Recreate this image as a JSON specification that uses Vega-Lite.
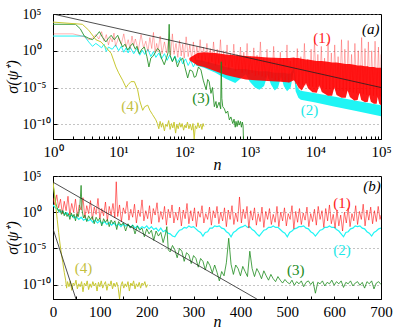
{
  "$schema": "https://vega.github.io/schema/vega-lite/v6.json",
  "background": "white",
  "padding": {"left": 3, "top": 6, "right": 5, "bottom": 2},
  "config": {
    "font": "Liberation Serif",
    "view": {"stroke": "black", "strokeWidth": 1},
    "axis": {"domainColor": "black", "tickColor": "black", "labelFont": "Liberation Serif", "labelFontSize": 15, "labelColor": "black", "titleFont": "Liberation Serif", "titleColor": "black", "titleFontWeight": "normal", "titleFontSize": 16, "titleFontStyle": "italic", "grid": false}
  },
  "datasets": {
    "aRedLine": [
      {"n":1,"v":200},{"n":2,"v":200},{"n":2.5,"v":126},{"n":3,"v":79},{"n":3.5,"v":32},{"n":4,"v":50},{"n":4.5,"v":158},{"n":5,"v":40},{"n":5.5,"v":398},{"n":6,"v":20},{"n":6.5,"v":158},{"n":7,"v":6.3},{"n":7.5,"v":63},{"n":8,"v":16},{"n":8.5,"v":251},{"n":9,"v":4},{"n":10,"v":63},{"n":11,"v":7.9},{"n":12,"v":200},{"n":13,"v":3.2},{"n":14,"v":32},{"n":15,"v":1.6},{"n":16,"v":100},{"n":17,"v":5},{"n":18,"v":40},{"n":20,"v":1.26},{"n":22,"v":158},{"n":24,"v":2.5},{"n":26,"v":20},{"n":28,"v":0.79},{"n":30,"v":63},{"n":32,"v":2},{"n":34,"v":316},{"n":36,"v":0.63},{"n":38,"v":10},{"n":40,"v":1},{"n":43,"v":100},{"n":46,"v":0.4},{"n":50,"v":16},{"n":54,"v":0.5},{"n":58,"v":40},{"n":62,"v":0.25},{"n":66,"v":200},{"n":70,"v":0.32},{"n":75,"v":10},{"n":80,"v":0.126},{"n":85,"v":25},{"n":90,"v":0.2},{"n":95,"v":7.9},{"n":100,"v":0.1},{"n":107,"v":79},{"n":115,"v":0.16},{"n":122,"v":6.3},{"n":130,"v":0.063},{"n":138,"v":16},{"n":147,"v":0.04},{"n":156,"v":4},{"n":165,"v":0.1},{"n":175,"v":32},{"n":186,"v":0.032},{"n":197,"v":3.2},{"n":210,"v":0.05},{"n":222,"v":10},{"n":236,"v":0.016},{"n":250,"v":2},{"n":265,"v":0.032},{"n":280,"v":16},{"n":300,"v":0.01},{"n":318,"v":1.6},{"n":337,"v":0.02},{"n":357,"v":32},{"n":380,"v":0.005},{"n":400,"v":1},{"n":425,"v":0.01},{"n":450,"v":6.3},{"n":478,"v":0.0032},{"n":507,"v":0.5},{"n":538,"v":0.0063},{"n":570,"v":7.9},{"n":605,"v":0.0016},{"n":640,"v":0.32},{"n":680,"v":0.0025},{"n":720,"v":3.2},{"n":765,"v":0.001},{"n":810,"v":0.63},{"n":860,"v":0.0016},{"n":910,"v":10},{"n":965,"v":0.00063},{"n":1020,"v":0.16},{"n":1085,"v":0.001},{"n":1150,"v":2.5},{"n":1220,"v":0.0004},{"n":1290,"v":0.25},{"n":1370,"v":0.0005},{"n":1450,"v":16},{"n":1540,"v":0.00032},{"n":1630,"v":0.1},{"n":1730,"v":0.00025},{"n":1830,"v":1.6},{"n":1940,"v":0.00016},{"n":2060,"v":0.063},{"n":2180,"v":0.0002},{"n":2310,"v":4},{"n":2450,"v":0.0001},{"n":2600,"v":0.032},{"n":2760,"v":0.0001},{"n":2920,"v":0.63},{"n":3100,"v":6.3e-5},{"n":3280,"v":0.1},{"n":3480,"v":7.9e-5},{"n":3690,"v":6.3},{"n":3910,"v":5e-5},{"n":4150,"v":0.04},{"n":4400,"v":0.000126},{"n":4700,"v":0.1},{"n":5000,"v":3.2e-5},{"n":5300,"v":2},{"n":5600,"v":3.2e-5},{"n":6000,"v":0.16},{"n":6400,"v":2.5e-5},{"n":6800,"v":10},{"n":7200,"v":2e-5},{"n":7600,"v":0.063},{"n":8100,"v":1.6e-5},{"n":8600,"v":1.6},{"n":9100,"v":1.26e-5},{"n":9700,"v":32},{"n":10300,"v":1e-5},{"n":10900,"v":0.32},{"n":11600,"v":1e-5},{"n":12300,"v":4},{"n":13000,"v":7.9e-6},{"n":13800,"v":0.1},{"n":14700,"v":6.3e-6},{"n":15600,"v":16},{"n":16500,"v":6.3e-6},{"n":17500,"v":0.5},{"n":18600,"v":5e-6},{"n":19700,"v":6.3},{"n":20900,"v":4e-6},{"n":22200,"v":0.16},{"n":23500,"v":4e-6},{"n":25000,"v":32},{"n":26500,"v":3.2e-6},{"n":28100,"v":1.6},{"n":29800,"v":2.5e-6},{"n":31600,"v":25},{"n":33500,"v":2.5e-6},{"n":35600,"v":0.32},{"n":37800,"v":2e-6},{"n":40000,"v":10},{"n":42500,"v":1.6e-6},{"n":45000,"v":1},{"n":47800,"v":1.6e-6},{"n":50700,"v":63},{"n":53800,"v":1.26e-6},{"n":57000,"v":2},{"n":60500,"v":1e-6},{"n":64200,"v":16},{"n":68000,"v":1e-6},{"n":72200,"v":1},{"n":76600,"v":7.9e-7},{"n":81200,"v":20},{"n":86100,"v":7.9e-7},{"n":91400,"v":3.2},{"n":97000,"v":6.3e-7},{"n":100000,"v":0.32}
    ],
    "aRedBand": [
      {"n":120,"lo":0.05,"hi":0.1},{"n":160,"lo":0.01,"hi":0.5},{"n":200,"lo":0.0063,"hi":0.63},{"n":300,"lo":0.0016,"hi":0.5},{"n":430,"lo":0.0005,"hi":0.32},{"n":600,"lo":0.00025,"hi":0.25},{"n":870,"lo":0.000126,"hi":0.2},{"n":1200,"lo":0.0001,"hi":0.16},{"n":1870,"lo":7.9e-5,"hi":0.126},{"n":3000,"lo":6.3e-5,"hi":0.1},{"n":4000,"lo":5e-5,"hi":0.1},{"n":4700,"lo":0.0001,"hi":0.126},{"n":5000,"lo":5e-5,"hi":0.1},{"n":5500,"lo":1e-5,"hi":0.1},{"n":6200,"lo":4e-6,"hi":0.079},{"n":7200,"lo":4e-5,"hi":0.063},{"n":7700,"lo":7.9e-6,"hi":0.063},{"n":9000,"lo":2.24e-6,"hi":0.05},{"n":10500,"lo":2e-6,"hi":0.04},{"n":11500,"lo":2e-5,"hi":0.04},{"n":12500,"lo":2.5e-6,"hi":0.04},{"n":15500,"lo":7.9e-7,"hi":0.032},{"n":18000,"lo":7.9e-7,"hi":0.025},{"n":19400,"lo":1e-5,"hi":0.025},{"n":21000,"lo":1e-6,"hi":0.025},{"n":25000,"lo":4e-7,"hi":0.02},{"n":29000,"lo":4e-7,"hi":0.016},{"n":31000,"lo":4e-6,"hi":0.016},{"n":33500,"lo":5e-7,"hi":0.016},{"n":39000,"lo":1.78e-7,"hi":0.0126},{"n":44000,"lo":2e-7,"hi":0.01},{"n":46900,"lo":2e-6,"hi":0.01},{"n":50000,"lo":2e-7,"hi":0.01},{"n":57000,"lo":1e-7,"hi":0.0079},{"n":63000,"lo":1.12e-7,"hi":0.0079},{"n":66000,"lo":1e-6,"hi":0.0063},{"n":70000,"lo":1.12e-7,"hi":0.0063},{"n":78000,"lo":6.3e-8,"hi":0.0063},{"n":86000,"lo":6.3e-8,"hi":0.005},{"n":89000,"lo":5e-7,"hi":0.005},{"n":94000,"lo":6.3e-8,"hi":0.005},{"n":100000,"lo":4e-8,"hi":0.005}
    ],
    "aCyanLine": [
      {"n":1,"v":100},{"n":3,"v":100},{"n":3.5,"v":16},{"n":4,"v":4},{"n":4.5,"v":10},{"n":5,"v":5},{"n":5.5,"v":2.5},{"n":6,"v":7.9},{"n":6.5,"v":0.79},{"n":7,"v":3.2},{"n":8,"v":1.6},{"n":9,"v":6.3},{"n":10,"v":1},{"n":11,"v":4},{"n":12,"v":0.63},{"n":13,"v":2.5},{"n":14,"v":0.5},{"n":15,"v":3.2},{"n":17,"v":0.4},{"n":19,"v":2},{"n":21,"v":0.25},{"n":23,"v":1.26},{"n":25,"v":0.32},{"n":28,"v":1.6},{"n":31,"v":0.16},{"n":34,"v":0.79},{"n":37,"v":0.126},{"n":41,"v":0.5},{"n":45,"v":0.079},{"n":50,"v":0.4},{"n":55,"v":0.05},{"n":60,"v":0.25},{"n":66,"v":0.04},{"n":72,"v":0.2},{"n":79,"v":0.025},{"n":87,"v":0.126},{"n":95,"v":0.016},{"n":105,"v":0.079},{"n":115,"v":0.01},{"n":126,"v":0.05},{"n":138,"v":0.0063},{"n":150,"v":0.032}
    ],
    "aCyanBand": [
      {"n":150,"lo":0.01,"hi":0.063},{"n":200,"lo":0.005,"hi":0.04},{"n":300,"lo":0.001,"hi":0.016},{"n":430,"lo":0.00016,"hi":0.0063},{"n":600,"lo":4e-5,"hi":0.0032},{"n":870,"lo":0.00063,"hi":0.0032},{"n":1000,"lo":6.3e-5,"hi":0.0025},{"n":1200,"lo":1e-5,"hi":0.002},{"n":1400,"lo":5e-6,"hi":0.0016},{"n":1650,"lo":1.6e-5,"hi":0.0016},{"n":1870,"lo":0.0005,"hi":0.0016},{"n":2100,"lo":2.5e-5,"hi":0.00126},{"n":2400,"lo":4e-6,"hi":0.001},{"n":2700,"lo":1e-5,"hi":0.001},{"n":3000,"lo":0.00032,"hi":0.001},{"n":3300,"lo":1.6e-5,"hi":0.001},{"n":3700,"lo":3.2e-6,"hi":0.00079},{"n":4200,"lo":1e-5,"hi":0.00079},{"n":4600,"lo":0.001,"hi":0.0032},{"n":4700,"lo":0.001,"hi":0.0079},{"n":5000,"lo":3.2e-6,"hi":5e-5},{"n":5500,"lo":4e-7,"hi":6.3e-6},{"n":6000,"lo":2.24e-7,"hi":3.7e-6},{"n":10000,"lo":8.9e-8,"hi":1.66e-6},{"n":20000,"lo":2.45e-8,"hi":5.4e-7},{"n":40000,"lo":6.9e-9,"hi":1.78e-7},{"n":100000,"lo":1.26e-9,"hi":4e-8}
    ],
    "aGreen": [
      {"n":1,"v":3980},{"n":2.2,"v":3980},{"n":2.6,"v":1000},{"n":3,"v":100},{"n":3.5,"v":50},{"n":4,"v":32},{"n":4.5,"v":100},{"n":5.1,"v":398},{"n":5.7,"v":63},{"n":6.4,"v":16},{"n":7,"v":50},{"n":7.7,"v":126},{"n":8.6,"v":32},{"n":9.7,"v":126},{"n":10.5,"v":20},{"n":11.5,"v":3.2},{"n":12.5,"v":7.9},{"n":13.8,"v":1.26},{"n":15,"v":4},{"n":16.4,"v":10},{"n":18,"v":1.6},{"n":19,"v":4},{"n":20.7,"v":0.4},{"n":22.5,"v":1.6},{"n":24.7,"v":3.2},{"n":27,"v":0.16},{"n":29,"v":0.0063},{"n":31,"v":0.1},{"n":33,"v":0.16},{"n":36,"v":0.5},{"n":39,"v":2},{"n":41.8,"v":1.26},{"n":45,"v":0.1},{"n":49.7,"v":0.0126},{"n":54,"v":0.126},{"n":57,"v":0.63},{"n":59,"v":3980},{"n":61,"v":0.25},{"n":66,"v":0.032},{"n":72,"v":0.16},{"n":79,"v":0.0063},{"n":86,"v":0.05},{"n":95,"v":0.1},{"n":103,"v":0.005},{"n":113,"v":0.0002},{"n":122,"v":0.0025},{"n":134,"v":0.0016},{"n":142,"v":0.00025},{"n":151,"v":0.00032},{"n":165,"v":0.0063},{"n":180,"v":0.0025},{"n":195,"v":0.0001},{"n":216,"v":5e-6},{"n":228,"v":0.000126},{"n":240,"v":6.3e-5},{"n":256,"v":1.6e-6},{"n":270,"v":1e-5},{"n":288,"v":2.5e-8},{"n":305,"v":1.26e-7},{"n":315,"v":1.6e-8},{"n":340,"v":1e-7},{"n":360,"v":1.26e-8},{"n":367,"v":0.032},{"n":375,"v":3.2e-7},{"n":387,"v":2.5e-8},{"n":410,"v":1.26e-8},{"n":432,"v":3.2e-9},{"n":460,"v":6.3e-9},{"n":488,"v":4e-10},{"n":515,"v":1e-9},{"n":550,"v":1.26e-10},{"n":575,"v":5e-10},{"n":600,"v":4e-11},{"n":616,"v":2.5e-10},{"n":640,"v":5e-11},{"n":665,"v":3.2e-10},{"n":690,"v":7.9e-11},{"n":720,"v":2.5e-10},{"n":745,"v":4e-11},{"n":770,"v":2e-10},{"n":790,"v":6.3e-11},{"n":800,"v":1e-12}
    ],
    "aYellow": [
      {"n":1,"v":7940},{"n":2.8,"v":3980},{"n":3.5,"v":631},{"n":4.5,"v":32},{"n":5.4,"v":16},{"n":6.5,"v":2.5},{"n":7.7,"v":0.45},{"n":9.1,"v":0.0063},{"n":10,"v":0.001},{"n":11.5,"v":0.0001},{"n":13,"v":1e-5},{"n":14,"v":2.5e-5},{"n":15.4,"v":6.3e-5},{"n":17.4,"v":6.3e-5},{"n":19.5,"v":5e-6},{"n":21,"v":1.6e-7},{"n":23.3,"v":7.9e-9},{"n":25,"v":2.5e-8},{"n":27.8,"v":4e-8},{"n":30,"v":7.9e-9},{"n":33,"v":2e-9},{"n":37,"v":4e-10},{"n":39,"v":1.26e-10},{"n":41,"v":2.5e-11},{"n":43,"v":2.5e-10},{"n":45,"v":4e-11},{"n":47,"v":1.6e-10},{"n":50,"v":1.26e-11},{"n":52,"v":1e-10},{"n":55,"v":5e-11},{"n":58,"v":3.2e-10},{"n":61,"v":2e-11},{"n":64,"v":1.26e-10},{"n":67,"v":3.2e-11},{"n":70,"v":2e-10},{"n":74,"v":6.3e-12},{"n":77,"v":1e-10},{"n":81,"v":2.5e-11},{"n":85,"v":1.6e-10},{"n":89,"v":4e-11},{"n":93,"v":1.26e-10},{"n":98,"v":1.6e-11},{"n":102,"v":7.9e-11},{"n":107,"v":3.2e-11},{"n":112,"v":2e-10},{"n":118,"v":2.5e-11},{"n":124,"v":1e-10},{"n":130,"v":1.6e-11},{"n":136,"v":1.26e-10},{"n":142,"v":1e-12},{"n":148,"v":6.3e-11},{"n":155,"v":2.5e-11},{"n":162,"v":1.6e-10},{"n":170,"v":3.2e-11},{"n":178,"v":1e-10},{"n":186,"v":2e-11},{"n":194,"v":1.26e-10},{"n":200,"v":5e-11}
    ],
    "aPow": [{"n":1,"v":100000},{"n":100000,"v":1e-5}],
    "aLabels": [
      {"n":12600,"v":47,"s":"1","t":"(1)"},{"n":8100,"v":8.7e-9,"s":"2","t":"(2)"},{"n":180,"v":3.7e-7,"s":"3","t":"(3)"},{"n":14.9,"v":3.5e-8,"s":"4","t":"(4)"}
    ],
    "aTag": [{"n":70000,"v":910,"t":"(a)"}],
    "bRed": [
      {"n":0,"v":100},{"n":4,"v":10},{"n":8,"v":251},{"n":12,"v":4},{"n":16,"v":63},{"n":20,"v":0.63},{"n":24,"v":32},{"n":28,"v":1.6},{"n":32,"v":158},{"n":36,"v":0.4},{"n":40,"v":16},{"n":44,"v":1},{"n":48,"v":63},{"n":52,"v":0.25},{"n":56,"v":10},{"n":60,"v":2},{"n":64,"v":100},{"n":68,"v":0.16},{"n":72,"v":7.9},{"n":76,"v":0.63},{"n":80,"v":40},{"n":84,"v":0.1},{"n":88,"v":5},{"n":92,"v":0.5},{"n":96,"v":79},{"n":100,"v":0.126},{"n":104,"v":3.2},{"n":108,"v":0.32},{"n":112,"v":25},{"n":116,"v":0.063},{"n":120,"v":6.3},{"n":124,"v":0.4},{"n":128,"v":16},{"n":132,"v":0.16},{"n":135,"v":16000},{"n":138,"v":0.25},{"n":142,"v":10},{"n":146,"v":0.05},{"n":150,"v":4},{"n":154,"v":0.63},{"n":158,"v":32},{"n":162,"v":0.079},{"n":166,"v":2.5},{"n":170,"v":0.2},{"n":174,"v":12.6},{"n":178,"v":0.032},{"n":182,"v":2},{"n":186,"v":0.25},{"n":190,"v":50},{"n":194,"v":0.063},{"n":198,"v":1.6},{"n":202,"v":0.126},{"n":206,"v":7.9},{"n":210,"v":0.025},{"n":214,"v":3.2},{"n":218,"v":0.4},{"n":222,"v":20},{"n":226,"v":0.04},{"n":230,"v":1.26},{"n":234,"v":0.1},{"n":238,"v":6.3},{"n":242,"v":0.016},{"n":246,"v":2.5},{"n":250,"v":0.16},{"n":254,"v":10},{"n":258,"v":0.032},{"n":262,"v":1},{"n":266,"v":0.079},{"n":270,"v":5},{"n":274,"v":0.0126},{"n":278,"v":2},{"n":282,"v":0.126},{"n":286,"v":16},{"n":290,"v":0.025},{"n":294,"v":1.6},{"n":298,"v":0.063},{"n":302,"v":4},{"n":306,"v":0.01},{"n":310,"v":1.26},{"n":314,"v":0.2},{"n":318,"v":7.9},{"n":322,"v":0.032},{"n":326,"v":0.63},{"n":330,"v":0.1},{"n":334,"v":5},{"n":338,"v":0.016},{"n":342,"v":1.6},{"n":346,"v":0.16},{"n":350,"v":6.3},{"n":354,"v":0.025},{"n":358,"v":1},{"n":362,"v":0.063},{"n":366,"v":4},{"n":370,"v":0.01},{"n":374,"v":2},{"n":378,"v":0.1},{"n":382,"v":7.9},{"n":386,"v":0.02},{"n":390,"v":0.79},{"n":394,"v":0.05},{"n":398,"v":126},{"n":402,"v":0.032},{"n":406,"v":2.5},{"n":410,"v":0.126},{"n":414,"v":6.3},{"n":418,"v":0.0063},{"n":422,"v":1.6},{"n":426,"v":0.079},{"n":430,"v":4},{"n":434,"v":0.016},{"n":438,"v":0.63},{"n":442,"v":0.05},{"n":446,"v":5},{"n":450,"v":0.0079},{"n":454,"v":1.26},{"n":458,"v":0.1},{"n":462,"v":3.2},{"n":466,"v":0.02},{"n":470,"v":0.5},{"n":474,"v":0.04},{"n":478,"v":6.3},{"n":482,"v":0.01},{"n":486,"v":1},{"n":490,"v":0.063},{"n":494,"v":4},{"n":498,"v":0.0126},{"n":502,"v":0.63},{"n":506,"v":0.1},{"n":510,"v":7.9},{"n":514,"v":0.005},{"n":518,"v":1.26},{"n":522,"v":0.04},{"n":526,"v":3.2},{"n":530,"v":0.02},{"n":534,"v":0.79},{"n":538,"v":0.079},{"n":542,"v":5},{"n":546,"v":0.01},{"n":550,"v":0.63},{"n":554,"v":0.05},{"n":558,"v":2.5},{"n":562,"v":0.016},{"n":566,"v":6.3},{"n":570,"v":0.1},{"n":574,"v":1.6},{"n":578,"v":0.0079},{"n":582,"v":3.2},{"n":586,"v":0.063},{"n":590,"v":10},{"n":594,"v":0.025},{"n":598,"v":0.5},{"n":602,"v":0.0063},{"n":606,"v":2},{"n":610,"v":0.0126},{"n":614,"v":0.4},{"n":618,"v":0.0025},{"n":622,"v":1},{"n":626,"v":0.032},{"n":630,"v":4},{"n":634,"v":0.01},{"n":638,"v":0.63},{"n":642,"v":0.063},{"n":646,"v":7.9},{"n":650,"v":0.02},{"n":654,"v":1.26},{"n":658,"v":0.1},{"n":662,"v":12.6},{"n":666,"v":0.0126},{"n":670,"v":2},{"n":674,"v":0.079},{"n":678,"v":5},{"n":682,"v":0.025},{"n":686,"v":1.6},{"n":690,"v":0.05},{"n":694,"v":6.3},{"n":698,"v":0.1},{"n":700,"v":0.4}
    ],
    "bCyan": [
      {"n":0,"v":10},{"n":5,"v":4},{"n":10,"v":2.5},{"n":15,"v":1},{"n":20,"v":1.6},{"n":25,"v":0.5},{"n":30,"v":0.79},{"n":35,"v":0.25},{"n":40,"v":0.4},{"n":45,"v":0.16},{"n":50,"v":0.25},{"n":55,"v":0.1},{"n":60,"v":0.2},{"n":65,"v":0.079},{"n":70,"v":0.126},{"n":75,"v":0.063},{"n":80,"v":0.1},{"n":85,"v":0.04},{"n":90,"v":0.079},{"n":95,"v":0.032},{"n":100,"v":0.063},{"n":105,"v":0.025},{"n":110,"v":0.05},{"n":115,"v":0.02},{"n":120,"v":0.04},{"n":125,"v":0.016},{"n":130,"v":0.032},{"n":135,"v":0.0126},{"n":140,"v":0.025},{"n":145,"v":0.01},{"n":150,"v":0.025},{"n":155,"v":0.0126},{"n":160,"v":0.02},{"n":165,"v":0.0079},{"n":170,"v":0.016},{"n":175,"v":0.0063},{"n":180,"v":0.0126},{"n":185,"v":0.005},{"n":190,"v":0.01},{"n":195,"v":0.0063},{"n":200,"v":0.0126},{"n":205,"v":0.005},{"n":210,"v":0.01},{"n":215,"v":0.004},{"n":220,"v":0.0063},{"n":225,"v":0.0025},{"n":230,"v":0.0063},{"n":235,"v":0.002},{"n":240,"v":0.0032},{"n":245,"v":0.00126},{"n":250,"v":0.001},{"n":255,"v":0.0005},{"n":260,"v":0.0004},{"n":265,"v":0.00126},{"n":270,"v":0.0032},{"n":275,"v":0.004},{"n":280,"v":0.0079},{"n":285,"v":0.0063},{"n":290,"v":0.0126},{"n":295,"v":0.0079},{"n":300,"v":0.01},{"n":305,"v":0.005},{"n":310,"v":0.0025},{"n":315,"v":0.0016},{"n":320,"v":0.0005},{"n":325,"v":0.0016},{"n":330,"v":0.002},{"n":335,"v":0.0063},{"n":340,"v":0.0063},{"n":345,"v":0.0126},{"n":350,"v":0.01},{"n":355,"v":0.0126},{"n":360,"v":0.0063},{"n":365,"v":0.005},{"n":370,"v":0.002},{"n":375,"v":0.00126},{"n":380,"v":0.0004},{"n":385,"v":0.0016},{"n":390,"v":0.0025},{"n":395,"v":0.005},{"n":400,"v":0.0079},{"n":405,"v":0.01},{"n":410,"v":0.016},{"n":415,"v":0.0079},{"n":420,"v":0.01},{"n":425,"v":0.004},{"n":430,"v":0.0025},{"n":435,"v":0.001},{"n":440,"v":0.0005},{"n":445,"v":0.00126},{"n":450,"v":0.0032},{"n":455,"v":0.004},{"n":460,"v":0.0079},{"n":465,"v":0.0079},{"n":470,"v":0.0126},{"n":475,"v":0.0079},{"n":480,"v":0.0079},{"n":485,"v":0.004},{"n":490,"v":0.002},{"n":495,"v":0.00126},{"n":500,"v":0.0004},{"n":505,"v":0.0016},{"n":510,"v":0.0025},{"n":515,"v":0.005},{"n":520,"v":0.0063},{"n":525,"v":0.01},{"n":530,"v":0.01},{"n":535,"v":0.0126},{"n":540,"v":0.0063},{"n":545,"v":0.005},{"n":550,"v":0.002},{"n":555,"v":0.00126},{"n":560,"v":0.0005},{"n":565,"v":0.00126},{"n":570,"v":0.0032},{"n":575,"v":0.004},{"n":580,"v":0.0079},{"n":585,"v":0.0079},{"n":590,"v":0.0126},{"n":595,"v":0.0079},{"n":600,"v":0.0079},{"n":605,"v":0.004},{"n":610,"v":0.0025},{"n":615,"v":0.001},{"n":620,"v":0.0004},{"n":625,"v":0.0016},{"n":630,"v":0.002},{"n":635,"v":0.005},{"n":640,"v":0.0063},{"n":645,"v":0.0126},{"n":650,"v":0.01},{"n":655,"v":0.0126},{"n":660,"v":0.0063},{"n":665,"v":0.005},{"n":670,"v":0.002},{"n":675,"v":0.00126},{"n":680,"v":0.0005},{"n":685,"v":0.0016},{"n":690,"v":0.0025},{"n":695,"v":0.005},{"n":700,"v":0.0063}
    ],
    "bGreen": [
      {"n":0,"v":7900},{"n":3,"v":316},{"n":6,"v":16},{"n":9,"v":4},{"n":12,"v":1.26},{"n":15,"v":2.5},{"n":18,"v":0.5},{"n":21,"v":1.6},{"n":24,"v":0.32},{"n":27,"v":1},{"n":30,"v":0.25},{"n":33,"v":0.63},{"n":36,"v":0.1},{"n":39,"v":0.79},{"n":42,"v":0.2},{"n":45,"v":0.5},{"n":48,"v":0.063},{"n":51,"v":0.63},{"n":54,"v":0.25},{"n":57,"v":3.2},{"n":60,"v":5000},{"n":62,"v":2},{"n":65,"v":0.16},{"n":68,"v":0.4},{"n":72,"v":0.05},{"n":76,"v":0.32},{"n":80,"v":0.1},{"n":84,"v":0.25},{"n":88,"v":0.025},{"n":92,"v":0.2},{"n":96,"v":0.063},{"n":100,"v":0.16},{"n":104,"v":0.0126},{"n":108,"v":0.126},{"n":112,"v":0.04},{"n":116,"v":0.1},{"n":120,"v":0.01},{"n":124,"v":0.079},{"n":128,"v":0.025},{"n":132,"v":0.063},{"n":136,"v":0.004},{"n":140,"v":0.05},{"n":145,"v":0.016},{"n":150,"v":0.032},{"n":155,"v":0.0025},{"n":160,"v":0.025},{"n":165,"v":0.0063},{"n":170,"v":0.016},{"n":175,"v":0.001},{"n":180,"v":0.0126},{"n":185,"v":0.0032},{"n":190,"v":0.0063},{"n":195,"v":0.0004},{"n":200,"v":0.005},{"n":205,"v":0.001},{"n":210,"v":0.0032},{"n":215,"v":0.000126},{"n":220,"v":0.0025},{"n":225,"v":0.0005},{"n":230,"v":0.0016},{"n":235,"v":6.3e-5},{"n":240,"v":0.001},{"n":243,"v":0.01},{"n":246,"v":6.3e-6},{"n":250,"v":3.2e-6},{"n":255,"v":2.5e-5},{"n":260,"v":6.3e-6},{"n":265,"v":5e-7},{"n":270,"v":1e-5},{"n":275,"v":4e-6},{"n":280,"v":1.6e-7},{"n":285,"v":2.5e-6},{"n":290,"v":1.26e-6},{"n":295,"v":7.9e-8},{"n":300,"v":1e-6},{"n":305,"v":4e-7},{"n":310,"v":2.5e-8},{"n":315,"v":4e-7},{"n":320,"v":1.6e-7},{"n":325,"v":1e-8},{"n":330,"v":1.6e-7},{"n":335,"v":4e-8},{"n":340,"v":4e-9},{"n":345,"v":5e-8},{"n":350,"v":5e-9},{"n":355,"v":3.2e-10},{"n":360,"v":6.3e-9},{"n":365,"v":1.6e-9},{"n":370,"v":1e-7},{"n":375,"v":0.00025},{"n":380,"v":6.3e-8},{"n":385,"v":2.5e-9},{"n":390,"v":5e-8},{"n":395,"v":1.6e-8},{"n":400,"v":1.6e-9},{"n":405,"v":3.2e-8},{"n":410,"v":6.3e-9},{"n":415,"v":1.26e-9},{"n":420,"v":4e-6},{"n":425,"v":1.6e-8},{"n":430,"v":1.26e-9},{"n":435,"v":1.6e-8},{"n":440,"v":4e-9},{"n":445,"v":6.3e-10},{"n":450,"v":7.9e-9},{"n":455,"v":1.6e-9},{"n":460,"v":4e-10},{"n":465,"v":2.5e-9},{"n":470,"v":6.3e-10},{"n":475,"v":2.5e-10},{"n":480,"v":1.26e-9},{"n":485,"v":4e-10},{"n":490,"v":1.6e-10},{"n":495,"v":5e-10},{"n":500,"v":2e-10},{"n":505,"v":1.26e-10},{"n":510,"v":4e-10},{"n":515,"v":7.9e-11},{"n":520,"v":2.5e-10},{"n":525,"v":1.26e-10},{"n":530,"v":3.2e-10},{"n":535,"v":5e-11},{"n":540,"v":2e-10},{"n":545,"v":3.2e-10},{"n":550,"v":1e-10},{"n":555,"v":2.5e-10},{"n":560,"v":6.3e-12},{"n":565,"v":2e-10},{"n":570,"v":1.26e-10},{"n":575,"v":3.2e-10},{"n":580,"v":6.3e-11},{"n":585,"v":2e-10},{"n":590,"v":1.26e-10},{"n":595,"v":4e-10},{"n":600,"v":7.9e-11},{"n":605,"v":2.5e-10},{"n":610,"v":1.26e-10},{"n":615,"v":3.2e-10},{"n":620,"v":4e-11},{"n":625,"v":2e-10},{"n":630,"v":1.26e-10},{"n":635,"v":3.2e-10},{"n":640,"v":6.3e-11},{"n":645,"v":1.6e-10},{"n":650,"v":2.5e-10},{"n":655,"v":7.9e-11},{"n":660,"v":2e-10},{"n":665,"v":3.2e-11},{"n":670,"v":2.5e-10},{"n":675,"v":1.26e-10},{"n":680,"v":3.2e-10},{"n":685,"v":2.5e-11},{"n":690,"v":1.6e-10},{"n":695,"v":2.5e-10},{"n":700,"v":1e-10}
    ],
    "bYellow": [
      {"n":0,"v":16000},{"n":3,"v":398},{"n":6,"v":6.3},{"n":9,"v":0.1},{"n":12,"v":0.0016},{"n":15,"v":4e-5},{"n":18,"v":1.6e-6},{"n":21,"v":1e-7},{"n":24,"v":5e-9},{"n":27,"v":4e-10},{"n":29,"v":3.2e-11},{"n":31,"v":2.5e-10},{"n":34,"v":5e-11},{"n":37,"v":3.2e-10},{"n":40,"v":1.6e-11},{"n":43,"v":1.6e-10},{"n":46,"v":7.9e-11},{"n":49,"v":4e-10},{"n":52,"v":2.5e-11},{"n":55,"v":1.26e-10},{"n":58,"v":5e-11},{"n":61,"v":2.5e-10},{"n":64,"v":1e-11},{"n":67,"v":1.6e-10},{"n":70,"v":6.3e-11},{"n":73,"v":3.2e-10},{"n":76,"v":2e-11},{"n":79,"v":1.26e-10},{"n":82,"v":4e-11},{"n":85,"v":2.5e-10},{"n":88,"v":6.3e-11},{"n":91,"v":1.6e-10},{"n":94,"v":1.26e-11},{"n":97,"v":2e-10},{"n":100,"v":5e-11},{"n":103,"v":3.2e-10},{"n":106,"v":3.2e-11},{"n":109,"v":1e-10},{"n":112,"v":2.5e-10},{"n":115,"v":1.6e-11},{"n":118,"v":1.26e-10},{"n":121,"v":6.3e-11},{"n":124,"v":3.2e-10},{"n":127,"v":2.5e-11},{"n":130,"v":1.6e-10},{"n":133,"v":5e-11},{"n":136,"v":2e-10},{"n":139,"v":4e-11},{"n":142,"v":1e-12},{"n":145,"v":7.9e-11},{"n":148,"v":2.5e-10},{"n":151,"v":3.2e-11},{"n":154,"v":1.26e-10},{"n":157,"v":5e-11},{"n":160,"v":2.5e-10},{"n":163,"v":1.26e-11},{"n":166,"v":1.6e-10},{"n":169,"v":6.3e-11},{"n":172,"v":3.2e-10},{"n":175,"v":2.5e-11},{"n":178,"v":1.26e-10},{"n":181,"v":5e-11},{"n":184,"v":2e-10},{"n":187,"v":3.2e-11},{"n":190,"v":1.6e-10},{"n":193,"v":7.9e-11},{"n":196,"v":2.5e-10},{"n":199,"v":4e-11},{"n":202,"v":1e-10}
    ],
    "bPow1": [{"n":0,"v":14000},{"n":435,"v":1e-12}],
    "bPow2": [{"n":0,"v":0.005},{"n":49,"v":1e-12}],
    "bLabels": [
      {"n":617,"v":16.6,"s":"1","t":"(1)"},{"n":617,"v":5.6e-6,"s":"2","t":"(2)"},{"n":518,"v":1e-8,"s":"3","t":"(3)"},{"n":65,"v":1.9e-8,"s":"4","t":"(4)"}
    ],
    "bTag": [{"n":681,"v":4200,"t":"(b)"}]
  },
  "spacing": 37,
  "bounds": "flush",
  "vconcat": [
    {
      "width": 328,
      "height": 125,
      "encoding": {
        "x": {"field": "n", "type": "quantitative", "scale": {"type": "log", "domain": [1, 100000]},
          "axis": {"values": [1,2,3,4,5,6,7,8,9,10,20,30,40,50,60,70,80,90,100,200,300,400,500,600,700,800,900,1000,2000,3000,4000,5000,6000,7000,8000,9000,10000,20000,30000,40000,50000,60000,70000,80000,90000,100000],
            "labelExpr": "abs(log(datum.value)/LN10 - round(log(datum.value)/LN10)) > 0.01 ? '' : ['10⁰','10¹','10²','10³','10⁴','10⁵'][round(log(datum.value)/LN10)]",
            "tickSize": -3, "labelPadding": 8, "labelFlush": false, "labelOverlap": false, "title": "n", "titlePadding": -3}},
        "y": {"field": "v", "type": "quantitative", "scale": {"type": "log", "domain": [1e-12, 100000]},
          "axis": {"values": [1e-10, 1e-5, 1, 100000],
            "labelExpr": "round(log(datum.value)/LN10) == 5 ? '10⁵' : round(log(datum.value)/LN10) == 0 ? '10⁰' : round(log(datum.value)/LN10) == -5 ? '10⁻⁵' : '10⁻¹⁰'",
            "grid": true, "gridDash": [1, 3], "gridColor": "#888888", "tickSize": -4, "labelAlign": "left", "labelFontSize": 14, "labelPadding": 35, "labelFlush": false, "labelOverlap": false, "title": "σ(ψ⁺)", "titlePadding": 2}}
      },
      "layer": [
        {"data": {"name": "aCyanBand"}, "mark": {"type": "area", "color": "#1ff5f5", "clip": true},
          "encoding": {"y": {"field": "lo", "type": "quantitative", "title": "σ(ψ⁺)"}, "y2": {"field": "hi"}}},
        {"data": {"name": "aCyanLine"}, "mark": {"type": "line", "color": "#1ff5f5", "strokeWidth": 1, "clip": true}},
        {"data": {"name": "aRedBand"}, "mark": {"type": "area", "color": "#ff0000", "opacity": 0.9, "clip": true},
          "encoding": {"y": {"field": "lo", "type": "quantitative", "title": "σ(ψ⁺)"}, "y2": {"field": "hi"}}},
        {"data": {"name": "aRedLine"}, "mark": {"type": "line", "color": "#ff0000", "opacity": 0.3, "strokeWidth": 1, "clip": true}},
        {"data": {"name": "aGreen"}, "mark": {"type": "line", "color": "#1e8c1e", "opacity": 0.85, "strokeWidth": 1, "clip": true}},
        {"data": {"name": "aYellow"}, "mark": {"type": "line", "color": "#c8c832", "strokeWidth": 1, "clip": true}},
        {"data": {"name": "aPow"}, "mark": {"type": "line", "color": "#222222", "strokeWidth": 0.8, "clip": true}},
        {"data": {"name": "aLabels"}, "mark": {"type": "text", "font": "Liberation Serif", "fontSize": 15},
          "encoding": {"text": {"field": "t"}, "color": {"field": "s", "type": "nominal", "legend": null, "scale": {"domain": ["1","2","3","4"], "range": ["#ff1a1a", "#1ae8e8", "#228b22", "#c4c040"]}}}},
        {"data": {"name": "aTag"}, "mark": {"type": "text", "font": "Liberation Serif", "fontSize": 15, "fontStyle": "italic", "color": "black"},
          "encoding": {"text": {"field": "t"}}}
      ]
    },
    {
      "width": 328,
      "height": 123,
      "encoding": {
        "x": {"field": "n", "type": "quantitative", "scale": {"domain": [0, 700], "nice": false},
          "axis": {"values": [0,50,100,150,200,250,300,350,400,450,500,550,600,650,700],
            "labelExpr": "datum.value % 100 == 0 ? datum.label : ''",
            "tickSize": -3, "labelPadding": 8, "labelFlush": false, "labelOverlap": false, "title": "n", "titlePadding": -6}},
        "y": {"field": "v", "type": "quantitative", "scale": {"type": "log", "domain": [1e-12, 100000]},
          "axis": {"values": [1e-10, 1e-5, 1, 100000],
            "labelExpr": "round(log(datum.value)/LN10) == 5 ? '10⁵' : round(log(datum.value)/LN10) == 0 ? '10⁰' : round(log(datum.value)/LN10) == -5 ? '10⁻⁵' : '10⁻¹⁰'",
            "grid": true, "gridDash": [1, 3], "gridColor": "#888888", "tickSize": -4, "labelAlign": "left", "labelFontSize": 14, "labelPadding": 35, "labelFlush": false, "labelOverlap": false, "title": "σ(ψ⁺)", "titlePadding": 2}}
      },
      "layer": [
        {"data": {"name": "bCyan"}, "mark": {"type": "line", "color": "#1ff5f5", "strokeWidth": 1.2, "clip": true}},
        {"data": {"name": "bRed"}, "mark": {"type": "line", "color": "#ff0000", "opacity": 0.55, "strokeWidth": 1, "clip": true}},
        {"data": {"name": "bGreen"}, "mark": {"type": "line", "color": "#1e8c1e", "opacity": 0.8, "strokeWidth": 1, "clip": true}},
        {"data": {"name": "bYellow"}, "mark": {"type": "line", "color": "#c8c832", "strokeWidth": 1, "clip": true}},
        {"data": {"name": "bPow1"}, "mark": {"type": "line", "color": "#222222", "strokeWidth": 0.8, "clip": true}},
        {"data": {"name": "bPow2"}, "mark": {"type": "line", "color": "#222222", "strokeWidth": 0.8, "clip": true}},
        {"data": {"name": "bLabels"}, "mark": {"type": "text", "font": "Liberation Serif", "fontSize": 15},
          "encoding": {"text": {"field": "t"}, "color": {"field": "s", "type": "nominal", "legend": null, "scale": {"domain": ["1","2","3","4"], "range": ["#ff1a1a", "#1ae8e8", "#228b22", "#c4c040"]}}}},
        {"data": {"name": "bTag"}, "mark": {"type": "text", "font": "Liberation Serif", "fontSize": 15, "fontStyle": "italic", "color": "black"},
          "encoding": {"text": {"field": "t"}}}
      ]
    }
  ]
}
